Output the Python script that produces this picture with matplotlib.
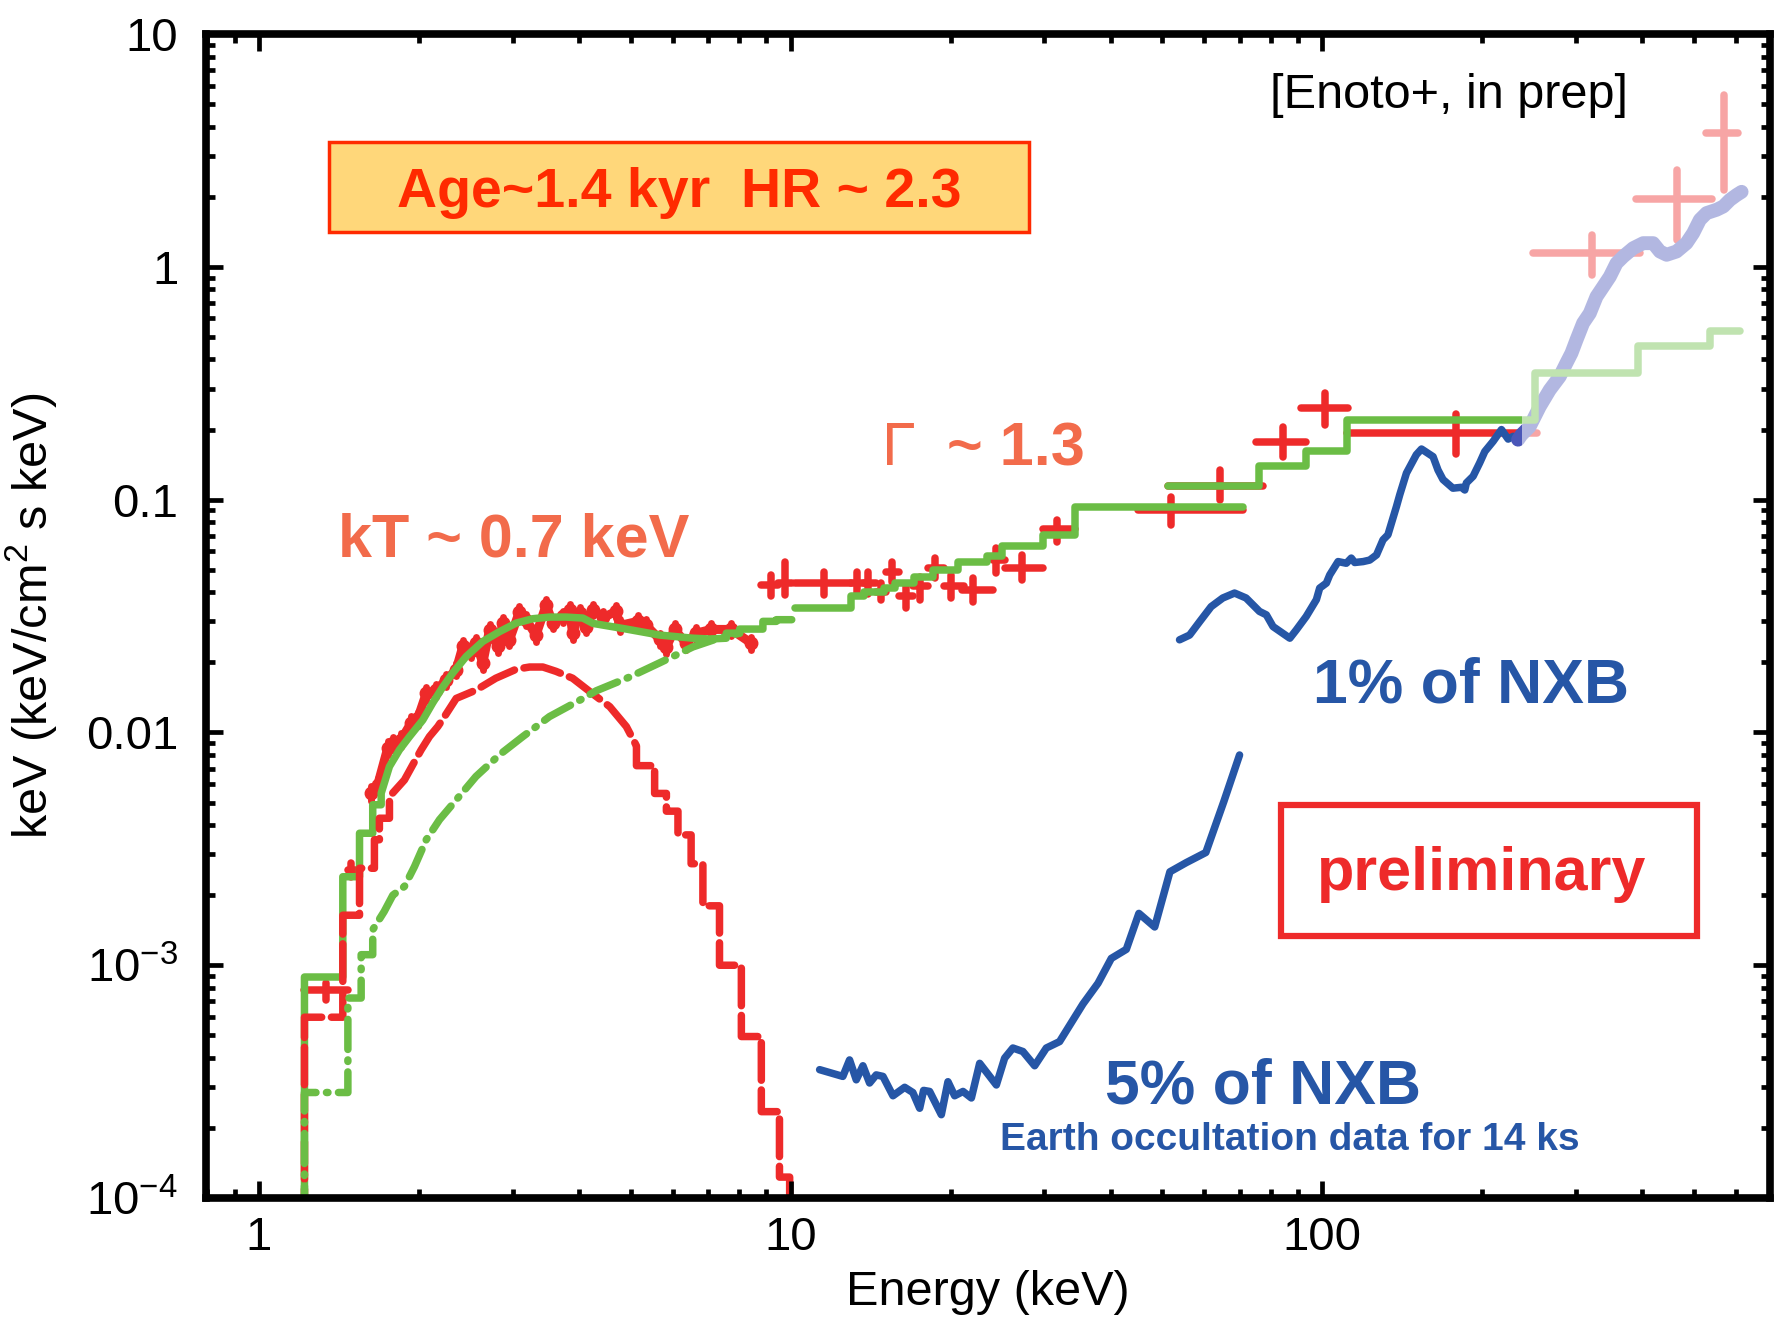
import numpy as np
import matplotlib
matplotlib.use("Agg")
import matplotlib.pyplot as plt
from matplotlib.patches import Rectangle
from matplotlib.ticker import LogLocator, NullFormatter

plt.rcParams['font.family'] = ['Liberation Sans', 'DejaVu Sans']
plt.rcParams['mathtext.fontset'] = 'custom'
plt.rcParams['mathtext.rm'] = 'Liberation Sans'
plt.rcParams['mathtext.default'] = 'regular'

RED = '#ee2a2a'
GREEN = '#6bbd45'
BLUE = '#2656a6'
SALMON = '#f26b4b'
ORANGE_RED = '#ff2a00'

# --- green total model (solid) ---
gm_lo_edges = [1.218, 1.438, 1.546, 1.637, 1.698]
gm_lo_vals = [8.9e-4, 2.40e-3, 3.69e-3, 4.89e-3]
gm_E = [1.698, 1.760, 1.838, 1.920, 2.033, 2.123, 2.218, 2.315, 2.454, 2.637, 2.835,
        3.047, 3.275, 3.521, 3.784, 4.067, 4.25, 4.91, 5.67, 6.55, 7.04, 7.57]
gm_F = [5.48e-3, 7.14e-3, 8.42e-3, 9.6e-3, 1.13e-2, 1.34e-2, 1.57e-2, 1.80e-2, 2.12e-2, 2.46e-2, 2.71e-2,
        2.95e-2, 3.08e-2, 3.13e-2, 3.13e-2, 3.10e-2, 2.94e-2, 2.78e-2, 2.62e-2, 2.54e-2, 2.52e-2, 2.54e-2]
gm_hi_edges = [7.57, 8.02, 8.87, 9.40, 10.05]
gm_hi_vals = [2.67e-2, 2.78e-2, 3.0e-2, 3.05e-2]
pin_edges = [10.2, 13.0, 13.77, 14.96, 15.72, 17.08, 18.56, 20.67, 23.4, 25.0, 29.8, 34.3, 71.0]
pin_vals = [3.42e-2, 3.84e-2, 4.03e-2, 4.17e-2, 4.38e-2, 4.67e-2, 4.99e-2, 5.42e-2, 5.70e-2, 6.35e-2, 7.06e-2, 0.093]
gso_edges = [51.3, 76.0, 93.4, 111.1, 251, 393, 536, 611]
gso_vals = [0.114, 0.139, 0.161, 0.22, 0.349, 0.455, 0.532]

# --- thermal component kT ~ 0.7 keV (red dashed) ---
th_lo_edges = [1.218, 1.438, 1.546, 1.649, 1.685, 1.76]
th_lo_vals = [5.98e-4, 1.64e-3, 2.61e-3, 3.46e-3, 4.28e-3]
th_E = [1.76, 1.878, 1.947, 2.019, 2.093, 2.17, 2.234, 2.35, 2.56, 2.79, 3.05, 3.23, 3.42,
        3.62, 3.89, 4.22, 4.57, 4.91, 5.13]
th_F = [5.3e-3, 6.25e-3, 7.26e-3, 8.42e-3, 9.6e-3, 1.06e-2, 1.17e-2, 1.40e-2, 1.52e-2, 1.71e-2,
        1.87e-2, 1.91e-2, 1.91e-2, 1.83e-2, 1.71e-2, 1.48e-2, 1.29e-2, 1.06e-2, 8.75e-3]
th_hi_edges = [5.13, 5.55, 5.84, 6.14, 6.50, 6.84, 7.35, 8.08, 8.81, 9.53, 9.96]
th_hi_vals = [7.2e-3, 5.47e-3, 4.59e-3, 3.63e-3, 2.73e-3, 1.80e-3, 1.0e-3, 4.94e-4, 2.35e-4, 1.23e-4]

# --- power law component Gamma ~ 1.3 (green dash-dot) ---
pl_lo_edges = [1.218, 1.47, 1.557, 1.637]
pl_lo_vals = [2.84e-4, 7.23e-4, 1.11e-3]
pl_E = [1.637, 1.72, 1.786, 1.878, 1.961, 2.064, 2.186, 2.35, 2.56, 2.835, 3.136, 3.52, 4.07,
        4.31, 4.98, 5.67, 6.55, 7.25, 8.02]
pl_F = [1.42e-3, 1.70e-3, 2.0e-3, 2.18e-3, 2.65e-3, 3.46e-3, 4.22e-3, 5.13e-3, 6.47e-3, 8.02e-3,
        9.6e-3, 1.17e-2, 1.40e-2, 1.51e-2, 1.73e-2, 1.99e-2, 2.33e-2, 2.52e-2, 2.67e-2]

# --- soft X-ray data points ---
xis_E = [1.626, 1.673, 1.747, 1.786, 1.851, 1.934, 1.99, 2.064, 2.155, 2.25, 2.35, 2.418, 2.507,
         2.562, 2.637, 2.715, 2.814, 2.876, 2.96, 3.09, 3.18, 3.32, 3.47, 3.57, 3.73, 3.84, 3.89,
         4.01, 4.13, 4.25, 4.44, 4.70, 4.77, 5.16, 5.35, 5.67, 5.84, 6.05, 6.36, 6.65, 7.09, 7.73, 8.43]
xis_F = [5.48e-3, 5.96e-3, 8.57e-3, 9.0e-3, 9.3e-3, 1.10e-2, 1.15e-2, 1.47e-2, 1.52e-2, 1.68e-2,
         1.86e-2, 2.34e-2, 2.23e-2, 2.42e-2, 1.99e-2, 2.76e-2, 2.34e-2, 2.95e-2, 2.50e-2, 3.30e-2,
         3.05e-2, 2.62e-2, 3.53e-2, 2.95e-2, 3.15e-2, 3.37e-2, 2.67e-2, 3.25e-2, 2.85e-2, 3.37e-2,
         3.12e-2, 3.31e-2, 2.88e-2, 3.0e-2, 2.88e-2, 2.52e-2, 2.33e-2, 2.77e-2, 2.42e-2, 2.67e-2,
         2.77e-2, 2.77e-2, 2.42e-2]
xis_err = [4e-4, 4e-4, 6e-4, 6e-4, 6e-4, 8e-4, 8e-4, 1e-3, 1e-3, 1.1e-3, 1.2e-3, 1.5e-3, 1.4e-3,
           1.5e-3, 1.3e-3, 1.7e-3, 1.5e-3, 1.8e-3, 1.6e-3, 2e-3, 1.9e-3, 1.7e-3, 2.1e-3, 1.8e-3,
           1.9e-3, 2e-3, 1.7e-3, 2e-3, 1.8e-3, 2e-3, 1.9e-3, 2e-3, 1.8e-3, 1.9e-3, 1.8e-3, 1.6e-3,
           1.5e-3, 1.7e-3, 1.5e-3, 1.7e-3, 1.7e-3, 1.7e-3, 1.5e-3]

# --- binned data crosses ---
cross_E = [1.338, 1.49, 9.17, 9.75, 11.57, 13.32, 14.0, 14.79, 15.52, 16.47, 17.51, 18.71, 20.0,
           22.08, 24.39, 27.27, 31.7, 52.0, 64.2, 84.2, 101.4, 178.6, 322, 464, 569]
cross_Elo = [1.218, 1.47, 8.80, 9.48, 10.2, 13.0, 13.77, 14.47, 15.1, 16.0, 17.0, 18.1, 19.4,
             21.0, 24.0, 25.3, 29.8, 45.0, 51.3, 75.2, 91.4, 111.1, 249, 390, 528]
cross_Ehi = [1.47, 1.52, 9.48, 10.05, 13.0, 13.77, 14.47, 15.1, 16.0, 17.0, 18.1, 19.4, 21.2,
             24.0, 25.3, 29.8, 34.3, 71.0, 77.4, 93.4, 111.9, 254, 396, 540, 606]
cross_F = [7.83e-4, 2.57e-3, 0.043, 0.0438, 0.0438, 0.0438, 0.0438, 0.0402, 0.0487, 0.0384,
           0.0424, 0.0508, 0.0426, 0.0409, 0.0551, 0.0511, 0.0747, 0.0903, 0.114, 0.177, 0.247,
           0.194, 1.146, 1.954, 3.77]
cross_Flo = [7.1e-4, 2.4e-3, 0.0384, 0.039, 0.039, 0.039, 0.0395, 0.037, 0.0445, 0.0342, 0.0372,
             0.046, 0.0377, 0.0365, 0.0483, 0.0452, 0.0661, 0.078, 0.0998, 0.152, 0.210, 0.157,
             0.925, 1.306, 2.14]
cross_Fhi = [8.4e-4, 2.75e-3, 0.0475, 0.0542, 0.049, 0.049, 0.049, 0.044, 0.0542, 0.0424, 0.0467,
             0.056, 0.0475, 0.046, 0.0619, 0.0579, 0.0819, 0.103, 0.134, 0.205, 0.287, 0.234,
             1.37, 2.61, 5.48]

# --- NXB levels ---
nxb1_E = [53.9, 56.3, 58.8, 61.8, 65.0, 68.4, 71.9, 76.2, 78.5, 80.8, 86.9, 89.4, 93.3, 97.5,
          98.9, 101.8, 103.3, 107.1, 111.0, 113.4, 115.1, 119.4, 122.8, 126.5, 130.1, 132.9,
          137.9, 139.9, 144.0, 150.3, 153.7, 161.6, 165.1, 168.7, 176.1, 182.7, 185.4, 186.7,
          192.2, 197.8, 202.2, 209.6, 217.3, 223.7, 228.6, 233.5, 237.0, 245.6, 256.5, 267.8,
          279.7, 287.9, 294.3, 300.8, 309.5, 318.6, 328.0, 337.6, 347.5, 357.7, 368.2, 384.5,
          401.5, 419.2, 431.6, 444.4, 463.8, 484.2, 498.5, 513.2, 528.3, 551.7, 568.0, 584.7,
          601.9, 614.8]
nxb1_F = [0.025, 0.0262, 0.0299, 0.0347, 0.0378, 0.0397, 0.0378, 0.0331, 0.032, 0.0285, 0.0254,
          0.0276, 0.0315, 0.0372, 0.0417, 0.0438, 0.0475, 0.0542, 0.0533, 0.0561, 0.0537, 0.0542,
          0.055, 0.0579, 0.0672, 0.0706, 0.0934, 0.105, 0.130, 0.156, 0.165, 0.153, 0.134, 0.122,
          0.112, 0.113, 0.110, 0.118, 0.126, 0.144, 0.161, 0.178, 0.20, 0.182, 0.187, 0.181,
          0.190, 0.206, 0.251, 0.296, 0.338, 0.386, 0.426, 0.486, 0.573, 0.632, 0.745, 0.822,
          0.908, 1.037, 1.107, 1.203, 1.264, 1.264, 1.164, 1.127, 1.164, 1.264, 1.396, 1.593,
          1.702, 1.759, 1.817, 1.941, 2.037, 2.10]
nxb5_E = [11.34, 12.54, 12.91, 13.29, 13.68, 14.08, 14.49, 14.92, 15.58, 16.39, 16.98, 17.49,
          17.79, 18.26, 19.21, 19.77, 20.35, 21.1, 21.88, 22.68, 24.38, 25.27, 26.19, 27.35,
          28.78, 30.27, 32.06, 33.98, 35.48, 37.87, 40.11, 42.8, 45.2, 48.4, 51.7, 55.5, 60.4,
          65.3, 69.9]
nxb5_F = [3.56e-4, 3.33e-4, 3.92e-4, 3.22e-4, 3.70e-4, 3.12e-4, 3.38e-4, 3.33e-4, 2.75e-4,
          2.99e-4, 2.84e-4, 2.43e-4, 2.90e-4, 2.87e-4, 2.28e-4, 3.16e-4, 2.75e-4, 2.87e-4,
          2.69e-4, 3.79e-4, 3.06e-4, 3.99e-4, 4.41e-4, 4.26e-4, 3.70e-4, 4.41e-4, 4.70e-4,
          5.82e-4, 6.82e-4, 8.37e-4, 1.07e-3, 1.17e-3, 1.67e-3, 1.46e-3, 2.52e-3, 2.76e-3,
          3.05e-3, 5.05e-3, 8.0e-3]

fade_E = 238  # above this energy everything is shown faded
floor = 1e-6


def step_xy(edges, vals):
    x, y = [], []
    for lo, hi, v in zip(edges[:-1], edges[1:], vals):
        x += [lo, hi]
        y += [v, v]
    return x, y


fig = plt.figure(figsize=(17.77, 13.2), dpi=100)
ax = fig.add_axes([0.1159, 0.0924, 0.8801, 0.8818])
ax.set_xscale('log')
ax.set_yscale('log')

lw = 5.4

# soft X-ray data
eb = ax.errorbar(xis_E, xis_F, yerr=xis_err, fmt='o', ms=9, color=RED, ecolor=RED,
                 elinewidth=5, capsize=0, zorder=2)
for lc in eb[2]:
    lc.set_capstyle('round')
ax.plot(xis_E, xis_F, color=RED, lw=6.5, zorder=2, solid_capstyle='round')

# binned crosses
xerr = [np.array(cross_E) - np.array(cross_Elo), np.array(cross_Ehi) - np.array(cross_E)]
yerr = [np.array(cross_F) - np.array(cross_Flo), np.array(cross_Fhi) - np.array(cross_F)]
eb = ax.errorbar(cross_E, cross_F, xerr=xerr, yerr=yerr, fmt='none', ecolor=RED,
                 elinewidth=lw, capsize=0, zorder=3)
for lc in eb[2]:
    lc.set_capstyle('round')

# NXB
ax.plot(nxb5_E, nxb5_F, color=BLUE, lw=5.4, zorder=3, solid_capstyle='round', solid_joinstyle='round')
ax.plot(nxb1_E, nxb1_F, color=BLUE, lw=5.4, zorder=3, solid_capstyle='round', solid_joinstyle='round')
n1E = np.array(nxb1_E)
n1F = np.array(nxb1_F)
m = n1E >= fade_E - 5
ax.plot(n1E[m], n1F[m], color='#4a56b8', lw=10, zorder=3, solid_capstyle='round')

# total model
x0, y0 = step_xy(gm_lo_edges, gm_lo_vals)
x1, y1 = step_xy(gm_hi_edges, gm_hi_vals)
ax.plot([gm_lo_edges[0]] + x0 + gm_E + x1, [floor] + y0 + gm_F + y1, color=GREEN, lw=lw,
        zorder=4, solid_capstyle='round', solid_joinstyle='round')
x2, y2 = step_xy(pin_edges, pin_vals)
ax.plot(x2, y2, color=GREEN, lw=lw, zorder=4, solid_capstyle='round')
x3, y3 = step_xy(gso_edges, gso_vals)
ax.plot(x3, y3, color=GREEN, lw=lw, zorder=4, solid_capstyle='round')

# thermal component
x4, y4 = step_xy(th_lo_edges, th_lo_vals)
x5, y5 = step_xy(th_hi_edges, th_hi_vals)
ax.plot([th_lo_edges[0]] + x4 + th_E + x5 + [th_hi_edges[-1]],
        [floor] + y4 + th_F + y5 + [floor], color=RED, lw=lw, zorder=5,
        linestyle=(0, (5, 1.3)), dash_capstyle='round')

# power law component
x6, y6 = step_xy(pl_lo_edges, pl_lo_vals)
ax.plot([pl_lo_edges[0]] + x6 + pl_E, [floor] + y6 + pl_F, color=GREEN, lw=lw, zorder=5,
        linestyle=(0, (4, 1.4, 0.2, 1.4)), dash_capstyle='round')

# fade the part above fade_E
ax.axvspan(fade_E, 2000, color='white', alpha=0.58, lw=0, zorder=6)

ax.set_xlim(0.795, 695)
ax.set_ylim(1e-4, 10)

ax.set_xticks([1, 10, 100])
ax.set_xticklabels(['1', '10', '100'])
ax.set_yticks([1e-4, 1e-3, 1e-2, 0.1, 1, 10])
ax.set_yticklabels(['$10^{-4}$', '$10^{-3}$', '0.01', '0.1', '1', '10'])
ax.xaxis.set_minor_locator(LogLocator(base=10, subs=np.arange(2, 10), numticks=20))
ax.yaxis.set_minor_locator(LogLocator(base=10, subs=np.arange(2, 10), numticks=20))
ax.xaxis.set_minor_formatter(NullFormatter())
ax.yaxis.set_minor_formatter(NullFormatter())
ax.tick_params(which='both', direction='in', top=True, right=True, width=3.4, colors='black')
ax.tick_params(which='major', length=12, labelsize=34)
ax.tick_params(which='minor', length=6.5)
ax.tick_params(axis='y', which='major', pad=20)
ax.tick_params(axis='x', which='major', pad=13)
for sp in ax.spines.values():
    sp.set_linewidth(5.5)
    sp.set_zorder(12)
ax.xaxis.set_zorder(12)
ax.yaxis.set_zorder(12)

ax.set_xlabel('Energy (keV)', fontsize=35)
ax.set_ylabel('keV (keV/cm$^2$ s keV)', fontsize=35)
ax.xaxis.set_label_coords(0.5, -0.062)
ax.yaxis.set_label_coords(-0.094, 0.5)

# annotations
ax.text(0.6803, 0.9362, '[Enoto+, in prep]', transform=ax.transAxes, fontsize=35,
        ha='left', va='baseline', zorder=10)
ax.add_patch(Rectangle((0.0786, 0.8302), 0.4476, 0.0773, transform=ax.transAxes,
                       facecolor='#ffd77a', edgecolor=ORANGE_RED, lw=2.5, zorder=9))
ax.text(0.3025, 0.8511, 'Age~1.4 kyr  HR ~ 2.3', transform=ax.transAxes, fontsize=40,
        fontweight='bold', color=ORANGE_RED, ha='center', va='baseline', zorder=10)
ax.text(0.0847, 0.5510, 'kT ~ 0.7 keV', transform=ax.transAxes, fontsize=44,
        fontweight='bold', color=SALMON, ha='left', va='baseline', zorder=10)
ax.text(0.4325, 0.6297, '\u0393', transform=ax.transAxes, fontsize=44,
        color=SALMON, ha='left', va='baseline', zorder=10)
ax.text(0.4736, 0.6297, '~ 1.3', transform=ax.transAxes, fontsize=44,
        fontweight='bold', color=SALMON, ha='left', va='baseline', zorder=10)
ax.text(0.7078, 0.4253, '1% of NXB', transform=ax.transAxes, fontsize=45,
        fontweight='bold', color=BLUE, ha='left', va='baseline', zorder=10)
ax.text(0.5748, 0.0816, '5% of NXB', transform=ax.transAxes, fontsize=45,
        fontweight='bold', color=BLUE, ha='left', va='baseline', zorder=10)
ax.text(0.5077, 0.0412, 'Earth occultation data for 14 ks', transform=ax.transAxes,
        fontsize=28, fontweight='bold', color=BLUE, ha='left', va='baseline', zorder=10)
ax.add_patch(Rectangle((0.6873, 0.2251), 0.2660, 0.1125, transform=ax.transAxes,
                       facecolor='white', edgecolor=RED, lw=4.5, zorder=9))
ax.text(0.7104, 0.2646, 'preliminary', transform=ax.transAxes, fontsize=44,
        fontweight='bold', color=RED, ha='left', va='baseline', zorder=10)

fig.savefig('out.png', dpi=100)
